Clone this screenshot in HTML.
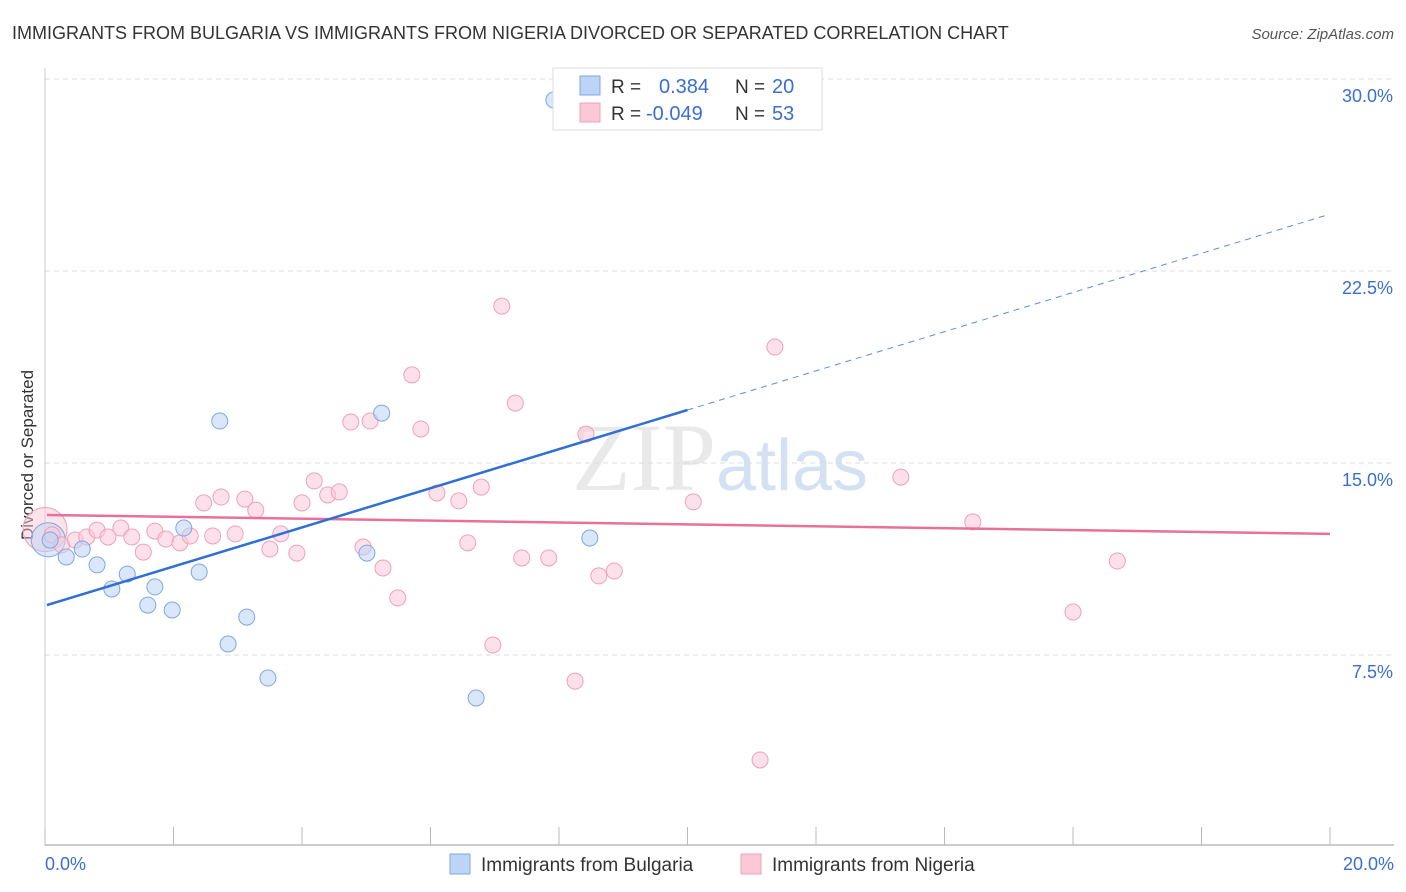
<!DOCTYPE html>
<html><head><meta charset="utf-8">
<style>
body{margin:0;background:#fff;font-family:"Liberation Sans",sans-serif;}
svg{display:block}
</style></head>
<body>
<svg id="chart" width="1406" height="892" xmlns="http://www.w3.org/2000/svg">
<text x="12" y="39" font-size="18" fill="#333">IMMIGRANTS FROM BULGARIA VS IMMIGRANTS FROM NIGERIA DIVORCED OR SEPARATED CORRELATION CHART</text>
<text x="1394" y="39" font-size="15" fill="#555" text-anchor="end" font-style="italic">Source: ZipAtlas.com</text>
<text x="720" y="490" font-size="96" text-anchor="middle" font-family="Liberation Serif,serif" fill="#e4e4e4" fill-opacity="0.8">ZIP<tspan font-family="Liberation Sans,sans-serif" fill="#c8daf0" font-size="72">atlas</tspan></text>
<text transform="translate(33,455) rotate(-90)" font-size="17" fill="#333" text-anchor="middle">Divorced or Separated</text>
<g id="grid"></g><g id="axes"></g><g id="marks"></g>
<g>
<rect x="553" y="68" width="269" height="62" fill="#fff" stroke="#ddd"/>
<rect x="580" y="76" width="20" height="19" fill="#bcd4f5" stroke="#7ea8e0"/>
<rect x="580" y="103" width="20" height="19" fill="#fcc8d8" stroke="#f0a0b8"/>
<text x="611" y="93" font-size="19" fill="#333">R =</text>
<text x="659" y="93" font-size="20" fill="#3a6fd0">0.384</text>
<text x="735" y="93" font-size="19" fill="#333">N =</text>
<text x="772" y="93" font-size="20" fill="#3a6fd0">20</text>
<text x="611" y="120" font-size="19" fill="#333">R =</text>
<text x="646" y="120" font-size="20" fill="#3a6fd0">-0.049</text>
<text x="735" y="120" font-size="19" fill="#333">N =</text>
<text x="772" y="120" font-size="20" fill="#3a6fd0">53</text>
</g>
<g>
<rect x="450" y="854" width="20" height="20" fill="#bcd4f5" stroke="#7ea8e0"/>
<text x="481" y="871" font-size="19" fill="#333">Immigrants from Bulgaria</text>
<rect x="741" y="854" width="20" height="20" fill="#fcc8d8" stroke="#f0a0b8"/>
<text x="772" y="871" font-size="19" fill="#333">Immigrants from Nigeria</text>
</g>
</svg>
<script>
const yTicks=[7.5,15,22.5,30];
const yTickLabels=["7.5%","15.0%","22.5%","30.0%"];
const xTicks=[0,2,4,6,8,10,12,14,16,18,20];
const xEndLabels=["0.0%","20.0%"];
const bulgariaX=[0.08,0.33,0.58,0.81,1.04,1.28,1.60,1.71,1.98,2.16,2.40,2.72,2.85,3.14,3.47,5.01,5.24,6.71,7.92,8.48];
const bulgariaY=[11.99,11.33,11.64,11.02,10.08,10.66,9.45,10.16,9.26,12.46,10.74,16.64,7.93,8.98,6.60,11.48,16.95,5.82,29.18,12.07];
const nigeriaX=[0.11,0.26,0.47,0.65,0.81,0.98,1.18,1.35,1.53,1.71,1.88,2.10,2.26,2.47,2.61,2.74,2.96,3.11,3.28,3.50,3.67,3.92,4.00,4.19,4.40,4.58,4.76,4.95,5.06,5.26,5.49,5.71,5.85,6.10,6.44,6.58,6.79,6.97,7.11,7.32,7.42,7.84,8.25,8.42,8.62,8.86,10.09,11.13,11.36,13.32,14.44,16.00,16.69];
const nigeriaY=[12.19,11.80,11.99,12.11,12.38,12.11,12.46,12.11,11.52,12.34,12.03,11.88,12.15,13.44,12.15,13.67,12.23,13.59,13.16,11.64,12.23,11.48,13.44,14.30,13.75,13.87,16.60,11.72,16.64,10.90,9.73,18.44,16.33,13.83,13.52,11.88,14.06,7.89,21.13,17.34,11.29,11.29,6.48,16.13,10.59,10.78,13.48,3.40,19.53,14.45,12.70,9.18,11.17];
const bulgariaTrend=[9.45,17.07,24.7];   // values at x=0,10,20
const nigeriaTrend=[12.97,12.23];         // values at x=0,20
const NS="http://www.w3.org/2000/svg";
const sx=v=>45+v*64.25, sy=v=>847-v*25.6;
function mk(tag,attrs,parent){const e=document.createElementNS(NS,tag);for(const k in attrs)e.setAttribute(k,attrs[k]);parent.appendChild(e);return e;}
const grid=document.getElementById('grid'),axes=document.getElementById('axes'),marks=document.getElementById('marks');
yTicks.forEach((t,i)=>{
 const l=mk('line',{x1:45,x2:1394,y1:sy(t),y2:sy(t),stroke:'#ddd','stroke-dasharray':'5,4'},grid);
 
 
 const tx=mk('text',{x:1393,y:sy(t)+23,'font-size':18,fill:'#3a6fd0','text-anchor':'end'},axes);
 tx.textContent=yTickLabels[i];
 
 
});
const ya=mk('line',{x1:45,x2:45,y1:68,y2:846,stroke:'#ccc'},axes);


const xa=mk('line',{x1:45,x2:1394,y1:845,y2:845,stroke:'#bbb','stroke-width':1.5},axes);


xTicks.forEach(t=>{
 const l=mk('line',{x1:sx(t),x2:sx(t),y1:827,y2:845,stroke:'#bbb'},axes);
 
 
});
[[0,'start',45],[20,'end',1394]].forEach((d,i)=>{
 const tx=mk('text',{x:d[2],y:870,'font-size':18,fill:'#3a6fd0','text-anchor':d[1]},axes);
 tx.textContent=xEndLabels[i];
 
 
});
// big circles at origin
const bp=mk('circle',{cx:sx(0),cy:sy(12.4),r:22,fill:'#fcc8d8','fill-opacity':0.5,stroke:'#f0a0b8'},marks);


const bb=mk('circle',{cx:sx(0.05),cy:sy(12.0),r:17,fill:'#bcd4f5','fill-opacity':0.5,stroke:'#7ea8e0'},marks);


nigeriaX.forEach((x,i)=>{
 const c=mk('circle',{cx:sx(x),cy:sy(nigeriaY[i]),r:8,fill:'#fcc8d8','fill-opacity':0.55,stroke:'#f0a0b8'},marks);
 
 
});
bulgariaX.forEach((x,i)=>{
 const c=mk('circle',{cx:sx(x),cy:sy(bulgariaY[i]),r:8,fill:'#bcd4f5','fill-opacity':0.55,stroke:'#7ea8e0'},marks);
 
 
});
const pt=mk('line',{x1:sx(0.03),y1:sy(nigeriaTrend[0]),x2:sx(20),y2:sy(nigeriaTrend[1]),stroke:'#e8709a','stroke-width':2.5},marks);


const bt=mk('line',{x1:sx(0.03),y1:sy(bulgariaTrend[0]),x2:sx(10),y2:sy(bulgariaTrend[1]),stroke:'#2f6fd6','stroke-width':2.5},marks);


const bd=mk('line',{x1:sx(10),y1:sy(bulgariaTrend[1]),x2:sx(19.97),y2:sy(bulgariaTrend[2]),stroke:'#5a8ee0','stroke-width':1,'stroke-dasharray':'6,5'},marks);


</script>
</body></html>
